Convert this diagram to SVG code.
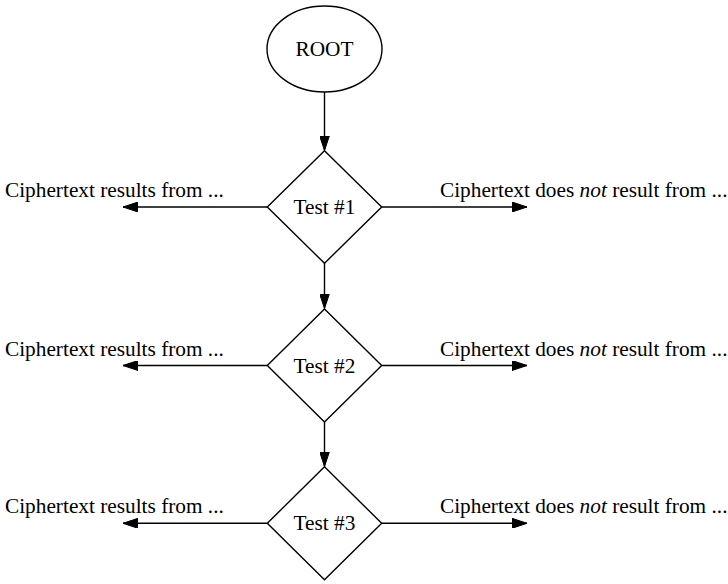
<svg xmlns="http://www.w3.org/2000/svg" width="728" height="584" viewBox="0 0 728 584">
<style>
.shape{fill:#fff;stroke:#000;stroke-width:1.4}
.edge{fill:none;stroke:#000;stroke-width:1.4}
text{font-family:"Liberation Serif","Times New Roman",serif;font-size:21.3px;fill:#000}
.c{text-anchor:middle}
</style>
<defs>
<marker id="ah" markerWidth="15" markerHeight="10" refX="15" refY="5" orient="auto" markerUnits="userSpaceOnUse">
<path d="M0,0 L15,5 L0,10 Z" fill="#000" stroke="#000" stroke-width="1"/>
</marker>
</defs>
<g id="connectors">
<path class="edge" d="M324.5,92 L324.5,150.5" marker-end="url(#ah)"/>
<path class="edge" d="M324.5,263 L324.5,308.5" marker-end="url(#ah)"/>
<path class="edge" d="M324.5,422 L324.5,466.5" marker-end="url(#ah)"/>
<path class="edge" d="M267.3,207 L123,207" marker-end="url(#ah)"/>
<path class="edge" d="M381.7,207 L527,207" marker-end="url(#ah)"/>
<path class="edge" d="M267.3,365.5 L123,365.5" marker-end="url(#ah)"/>
<path class="edge" d="M381.7,365.5 L527,365.5" marker-end="url(#ah)"/>
<path class="edge" d="M267.3,523.3 L123,523.3" marker-end="url(#ah)"/>
<path class="edge" d="M381.7,523.3 L527,523.3" marker-end="url(#ah)"/>
</g>
<g id="root">
<ellipse class="shape" cx="324.5" cy="49" rx="57.5" ry="43"/>
<text class="c" x="324.5" y="56">ROOT</text>
</g>
<g id="test1">
<path class="shape" d="M324.5,150.7 L381.7,207 L324.5,263.3 L267.3,207 Z"/>
<text class="c" x="324.5" y="214">Test #1</text>
</g>
<g id="test2">
<path class="shape" d="M324.5,309 L381.7,365.5 L324.5,422 L267.3,365.5 Z"/>
<text class="c" x="324.5" y="372.5">Test #2</text>
</g>
<g id="test3">
<path class="shape" d="M324.5,466.8 L381.7,523.3 L324.5,579.8 L267.3,523.3 Z"/>
<text class="c" x="324.5" y="530.3">Test #3</text>
</g>
<g id="labels">
<text x="5" y="197">Ciphertext results from ...</text>
<text x="440" y="197">Ciphertext does <tspan font-style="italic">not</tspan> result from ...</text>
<text x="5" y="355.5">Ciphertext results from ...</text>
<text x="440" y="355.5">Ciphertext does <tspan font-style="italic">not</tspan> result from ...</text>
<text x="5" y="513.3">Ciphertext results from ...</text>
<text x="440" y="513.3">Ciphertext does <tspan font-style="italic">not</tspan> result from ...</text>
</g>
</svg>
